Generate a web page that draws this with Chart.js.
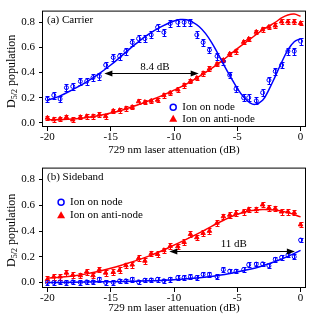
<!DOCTYPE html>
<html>
<head>
<meta charset="utf-8">
<script src="https://cdn.jsdelivr.net/npm/chart.js@4.4.1/dist/chart.umd.min.js"></script>
<style>
  html, body { margin: 0; padding: 0; background: #fff; }
  #wrap { width: 315px; height: 315px; }
  canvas { display: block; }
</style>
</head>
<body>
<div id="wrap">
  <canvas id="chartA" width="315" height="157"></canvas>
  <canvas id="chartB" width="315" height="158"></canvas>
</div>
<script>
// 729 nm attenuation steps (dB), shared by every measured series
const attenuation = [-20, -19.5, -19, -18.5, -18, -17.4, -16.9, -16.4, -15.9, -15.4, -14.8, -14.3, -13.8, -13.3, -12.8, -12.3, -11.8, -11.3, -10.8, -10.3,
  -9.7, -9.2, -8.7, -8.2, -7.7, -7.2, -6.6, -6.1, -5.6, -5.1, -4.5, -4.1, -3.5, -3.0, -2.5, -2.0, -1.5, -1.0, -0.5, 0];

// (a) carrier
const carrierNode = [0.19, 0.22, 0.19, 0.28, 0.29, 0.33, 0.33, 0.36, 0.37, 0.46, 0.52, 0.53, 0.57, 0.64, 0.67, 0.67, 0.70, 0.76, 0.72, 0.79,
  0.80, 0.80, 0.80, 0.70, 0.64, 0.58, 0.53, 0.49, 0.38, 0.27, 0.20, 0.20, 0.175, 0.24, 0.34, 0.41, 0.46, 0.57, 0.57, 0.65];
const carrierAntiNode = [0.04, 0.027, 0.032, 0.045, 0.025, 0.045, 0.052, 0.052, 0.065, 0.052, 0.095, 0.10, 0.115, 0.125, 0.17, 0.165, 0.175, 0.182, 0.219, 0.239,
  0.264, 0.299, 0.332, 0.357, 0.394, 0.431, 0.469, 0.499, 0.549, 0.569, 0.643, 0.668, 0.723, 0.743, 0.763, 0.773, 0.805, 0.805, 0.805, 0.793];

// (b) sideband
const sidebandNode = [0.0, 0.0, 0.005, 0.0, 0.005, 0.0, 0.005, 0.005, 0.025, 0.0, 0.0, 0.013, 0.013, 0.025, 0.005, 0.018, 0.02, 0.025, 0.013, 0.025,
  0.038, 0.038, 0.045, 0.038, 0.063, 0.063, 0.045, 0.10, 0.088, 0.088, 0.10, 0.138, 0.143, 0.145, 0.13, 0.18, 0.195, 0.213, 0.20, 0.33];
const sidebandAntiNode = [0.025, 0.045, 0.045, 0.075, 0.058, 0.055, 0.083, 0.055, 0.10, 0.075, 0.08, 0.095, 0.133, 0.138, 0.188, 0.168, 0.225, 0.22, 0.25, 0.283,
  0.28, 0.313, 0.375, 0.35, 0.383, 0.40, 0.463, 0.513, 0.525, 0.538, 0.55, 0.568, 0.568, 0.605, 0.58, 0.575, 0.55, 0.55, 0.543, 0.45];

// error bar half-heights
const errCarrierNode = 0.027;
const errCarrierAnti = 0.018;
const errSidebandNode = 0.018;
const errSidebandAnti = 0.022;

// fit curves
const fitCarrierNodeX = [-20, -19, -18, -17, -16, -15, -14, -13, -12, -11, -10, -9.5, -9, -8.5, -8, -7.5, -7, -6.5, -6, -5.5, -5, -4.5, -4, -3.6, -3, -2.5, -2, -1.5, -1, -0.5, 0];
const fitCarrierNodeY = [0.18, 0.215, 0.265, 0.32, 0.385, 0.46, 0.545, 0.63, 0.705, 0.765, 0.81, 0.822, 0.82, 0.80, 0.765, 0.71, 0.635, 0.545, 0.45, 0.36, 0.275, 0.205, 0.16, 0.147, 0.18, 0.265, 0.37, 0.48, 0.58, 0.645, 0.67];
const fitCarrierAntiX = [-20, -19, -18, -17, -16, -15, -14, -13, -12, -11, -10, -9, -8, -7, -6, -5, -4, -3, -2, -1.5, -1, -0.5, 0];
const fitCarrierAntiY = [0.025, 0.026, 0.03, 0.04, 0.056, 0.078, 0.105, 0.138, 0.175, 0.215, 0.26, 0.31, 0.37, 0.435, 0.51, 0.59, 0.665, 0.74, 0.80, 0.835, 0.858, 0.865, 0.848];
const fitSidebandNodeX = [-20, -18, -16, -14, -12, -10, -8, -6, -4, -3, -2, -1, 0];
const fitSidebandNodeY = [0.0, 0.002, 0.005, 0.008, 0.013, 0.021, 0.037, 0.063, 0.103, 0.13, 0.163, 0.203, 0.25];
const fitSidebandAntiX = [-20, -19, -18, -17, -16, -15, -14, -13, -12, -11, -10, -9, -8, -7, -6, -5, -4, -3, -2, -1, 0];
const fitSidebandAntiY = [0.035, 0.041, 0.05, 0.065, 0.085, 0.11, 0.139, 0.17, 0.205, 0.245, 0.29, 0.337, 0.386, 0.438, 0.488, 0.53, 0.558, 0.568, 0.563, 0.543, 0.51];

// arrows: [from dB, to dB, population] and their labels
const arrowCarrier = [-15.5, -8.05, 0.4];
const arrowSideband = [-10.37, -0.45, 0.243];
const labelCarrier = ["8.4 dB", -11.5, 0.446];
const labelSideband = ["11 dB", -5.28, 0.295];

const xTicks = [-20, -15, -10, -5, 0];
const yTicks = [0, 0.2, 0.4, 0.6, 0.8];
const legendLabels = ["Ion on node", "Ion on anti-node"];

const BLUE = "#0000ff";
const RED = "#ff0000";
const SERIF = "'Liberation Serif', 'DejaVu Serif', serif";

function pts(xs, ys) {
  return xs.map((x, i) => ({ x, y: ys[i] }));
}

function drawArrowHead(ctx, tipX, y, dir) {
  ctx.beginPath();
  ctx.moveTo(tipX, y);
  ctx.lineTo(tipX - dir * 8, y - 3);
  ctx.lineTo(tipX - dir * 8, y + 3);
  ctx.closePath();
  ctx.fill();
}

const decorPlugin = {
  id: "decor",
  beforeDatasetsDraw(chart) {
    const { ctx, scales: { x, y } } = chart;
    ctx.save();
    ctx.lineWidth = 1;
    chart.data.datasets.forEach((ds) => {
      if (!ds.errorBar) return;
      ctx.strokeStyle = ds.borderColor;
      ds.data.forEach((p) => {
        const px = Math.round(x.getPixelForValue(p.x)) + 0.5;
        const y1 = Math.round(y.getPixelForValue(p.y - ds.errorBar)) + 0.5;
        const y2 = Math.round(y.getPixelForValue(p.y + ds.errorBar)) + 0.5;
        ctx.beginPath();
        ctx.moveTo(px, y1);
        ctx.lineTo(px, y2);
        ctx.moveTo(px - 2, y1);
        ctx.lineTo(px + 2, y1);
        ctx.moveTo(px - 2, y2);
        ctx.lineTo(px + 2, y2);
        ctx.stroke();
      });
    });
    ctx.restore();
  },
  afterDraw(chart, args, opts) {
    const { ctx, chartArea: a, scales: { x, y } } = chart;
    ctx.save();

    // frame
    ctx.strokeStyle = "#000";
    ctx.lineWidth = 1;
    ctx.strokeRect(a.left - 0.5, a.top + 0.5, a.right - a.left + 1, a.bottom - a.top);

    ctx.fillStyle = "#000";
    ctx.font = `11px ${SERIF}`;
    ctx.textBaseline = "middle";

    // panel label
    ctx.textAlign = "left";
    ctx.fillText(opts.panel, a.left + 4, a.top + 10);

    // arrow + label
    const [from, to, level] = opts.arrow;
    const ay = Math.round(y.getPixelForValue(level)) + 0.5;
    const x1 = x.getPixelForValue(from);
    const x2 = x.getPixelForValue(to);
    ctx.beginPath();
    ctx.moveTo(x1 + 4, ay);
    ctx.lineTo(x2 - 4, ay);
    ctx.stroke();
    drawArrowHead(ctx, x1, ay, -1);
    drawArrowHead(ctx, x2, ay, 1);
    const [txt, tx, ty] = opts.label;
    ctx.textAlign = "center";
    ctx.fillText(txt, x.getPixelForValue(tx), y.getPixelForValue(ty));

    // legend
    const lx = a.left + opts.legend[0] * (a.right - a.left);
    const ly1 = a.top + opts.legend[1] * (a.bottom - a.top);
    const ly2 = a.top + opts.legend[2] * (a.bottom - a.top);
    ctx.strokeStyle = BLUE;
    ctx.lineWidth = 1.5;
    ctx.beginPath();
    ctx.arc(lx, ly1, 3, 0, Math.PI * 2);
    ctx.stroke();
    ctx.fillStyle = RED;
    ctx.beginPath();
    ctx.moveTo(lx, ly2 - 4);
    ctx.lineTo(lx + 4, ly2 + 3);
    ctx.lineTo(lx - 4, ly2 + 3);
    ctx.closePath();
    ctx.fill();
    ctx.fillStyle = "#000";
    ctx.textAlign = "left";
    ctx.fillText(legendLabels[0], lx + 9, ly1);
    ctx.fillText(legendLabels[1], lx + 9, ly2);

    // y title with subscript, rotated
    const cy = (a.top + a.bottom) / 2 + 3;
    ctx.translate(12, cy);
    ctx.rotate(-Math.PI / 2);
    ctx.textAlign = "left";
    ctx.textBaseline = "middle";
    ctx.font = `12px ${SERIF}`;
    const wD = ctx.measureText("D").width;
    const wRest = ctx.measureText(" population").width;
    ctx.font = `8px ${SERIF}`;
    const wSub = ctx.measureText("5/2").width;
    let sx = -(wD + wSub + wRest) / 2;
    ctx.font = `12px ${SERIF}`;
    ctx.fillText("D", sx, 0);
    sx += wD;
    ctx.font = `8px ${SERIF}`;
    ctx.fillText("5/2", sx, 3);
    sx += wSub;
    ctx.font = `12px ${SERIF}`;
    ctx.fillText(" population", sx, 0);

    ctx.restore();
  },
};

function makeChart(id, cfg) {
  const tickFont = { family: SERIF, size: 11 };
  return new Chart(document.getElementById(id), {
    type: "scatter",
    data: {
      datasets: [
        { data: pts(cfg.fitNodeX, cfg.fitNodeY), showLine: true, borderColor: BLUE, borderWidth: 1.5, pointRadius: 0, tension: 0.4 },
        { data: pts(cfg.fitAntiX, cfg.fitAntiY), showLine: true, borderColor: RED, borderWidth: 1.5, pointRadius: 0, tension: 0.4 },
        { data: pts(attenuation, cfg.node), errorBar: cfg.errNode, pointStyle: "circle", pointRadius: 2, borderWidth: 1, borderColor: BLUE, backgroundColor: "rgba(0,0,0,0)" },
        { data: pts(attenuation, cfg.anti), errorBar: cfg.errAnti, pointStyle: "triangle", pointRadius: 2.6, borderWidth: 1, borderColor: RED, backgroundColor: RED },
      ],
    },
    options: {
      responsive: false,
      animation: false,
      events: [],
      layout: { padding: { top: cfg.padTop, right: 10, left: 0, bottom: 0 } },
      plugins: {
        legend: { display: false },
        tooltip: { enabled: false },
        decor: { panel: cfg.panel, arrow: cfg.arrow, label: cfg.label, legend: cfg.legend },
      },
      scales: {
        x: {
          type: "linear",
          min: -20.35,
          max: 0.35,
          afterFit: (s) => { s.height = cfg.xHeight; },
          afterBuildTicks: (s) => { s.ticks = xTicks.map((v) => ({ value: v })); },
          ticks: { font: tickFont, color: "#000", padding: 0, maxRotation: 0, autoSkip: false, callback: (v) => String(v) },
          grid: { drawOnChartArea: false, drawTicks: true, tickLength: 5, tickColor: "#000" },
          border: { display: false },
          title: { display: true, text: "729 nm laser attenuation (dB)", font: tickFont, color: "#000", padding: 0 },
        },
        y: {
          type: "linear",
          min: cfg.yMin,
          max: 0.893,
          afterFit: (s) => { s.width = 43; },
          afterBuildTicks: (s) => { s.ticks = yTicks.map((v) => ({ value: v })); },
          ticks: { font: tickFont, color: "#000", padding: 4, callback: (v) => v.toFixed(1) },
          grid: { drawOnChartArea: false, drawTicks: true, tickLength: 4, tickColor: "#000" },
          border: { display: false },
        },
      },
    },
    plugins: [decorPlugin],
  });
}

function main() {
  makeChart("chartA", {
    panel: "(a) Carrier",
    node: carrierNode,
    anti: carrierAntiNode,
    errNode: errCarrierNode,
    errAnti: errCarrierAnti,
    fitNodeX: fitCarrierNodeX,
    fitNodeY: fitCarrierNodeY,
    fitAntiX: fitCarrierAntiX,
    fitAntiY: fitCarrierAntiY,
    arrow: arrowCarrier,
    label: labelCarrier,
    legend: [0.497, 0.838, 0.938],
    padTop: 3,
    xHeight: 31,
    yMin: -0.025,
  });
  makeChart("chartB", {
    panel: "(b) Sideband",
    node: sidebandNode,
    anti: sidebandAntiNode,
    errNode: errSidebandNode,
    errAnti: errSidebandAnti,
    fitNodeX: fitSidebandNodeX,
    fitNodeY: fitSidebandNodeY,
    fitAntiX: fitSidebandAntiX,
    fitAntiY: fitSidebandAntiY,
    arrow: arrowSideband,
    label: labelSideband,
    legend: [0.069, 0.29, 0.40],
    padTop: 5,
    xHeight: 28,
    yMin: -0.035,
  });
}

document.addEventListener("DOMContentLoaded", main);
</script>
</body>
</html>
